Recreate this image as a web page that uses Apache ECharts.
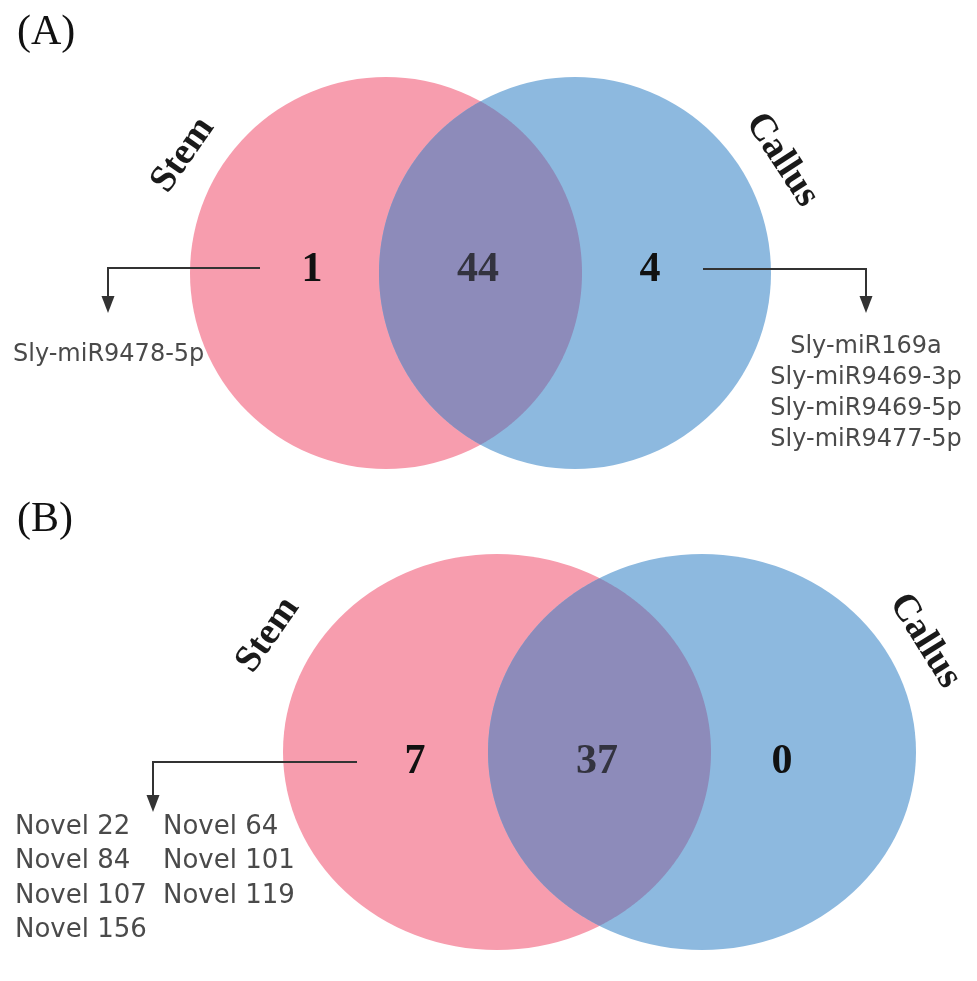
<!DOCTYPE html>
<html>
<head>
<meta charset="utf-8">
<script src="https://cdn.jsdelivr.net/npm/echarts@6/dist/echarts.min.js"></script>
<style>
  html, body { margin: 0; padding: 0; background: #fff; }
  #chart { width: 977px; height: 981px; }
</style>
</head>
<body>
<div id="chart"></div>
<script>
// ---- data ----
const panelTags = ['(A)', '(B)'];
const setNames = ['Stem', 'Callus'];
// region counts: [Stem only, shared, Callus only]
const knownCounts = [1, 44, 4];
const novelCounts = [7, 37, 0];
const knownStemOnly = ['Sly-miR9478-5p'];
const knownCallusOnly = ['Sly-miR169a', 'Sly-miR9469-3p', 'Sly-miR9469-5p', 'Sly-miR9477-5p'];
const novelStemOnly = ['Novel 22', 'Novel 64', 'Novel 84', 'Novel 101', 'Novel 107', 'Novel 119', 'Novel 156'];

// ---- styling ----
const COLORS = {
  sets: ['#F79DAE', '#8DB9DF'],
  shared: '#8D8BBA',
  count: '#111111',
  sharedCount: '#33333f',
  list: '#4a4a4a',
  arrow: '#333333'
};
const FONT_COUNT = 'bold 42px "Liberation Serif", "Times New Roman", serif';
const FONT_NAME = 'bold 38px "Liberation Serif", "Times New Roman", serif';
const FONT_TAG = '42px "Liberation Serif", "Times New Roman", serif';

// ---- layout (in each panel's axis units) ----
const panels = [
  {
    tag: panelTags[0], tagPos: [17, 33],
    counts: knownCounts,
    circles: [{ cx: 386, cy: 273, rx: 196, ry: 196 }, { cx: 575, cy: 273, rx: 196, ry: 196 }],
    countX: [312, 478, 650], countY: 270,
    names: [{ x: 183, y: 155, rot: 55 }, { x: 782, y: 160, rot: -57 }],
    arrows: [
      { from: [260, 268], corner: [108, 268], tip: [108, 313] },
      { from: [703, 269], corner: [866, 269], tip: [866, 313] }
    ],
    lists: [
      { items: knownStemOnly, x: 13, y: 355, align: 'left', lineHeight: 31, font: '24px "DejaVu Sans", sans-serif' },
      { items: knownCallusOnly, x: 866, y: 347, align: 'center', lineHeight: 31, font: '24px "DejaVu Sans", sans-serif' }
    ]
  },
  {
    tag: panelTags[1], tagPos: [17, 30],
    counts: novelCounts,
    circles: [{ cx: 497, cy: 262, rx: 214, ry: 198 }, { cx: 702, cy: 262, rx: 214, ry: 198 }],
    countX: [415, 597, 782], countY: 272,
    names: [{ x: 268, y: 145, rot: 55 }, { x: 925, y: 151, rot: -58 }],
    arrows: [
      { from: [357, 272], corner: [153, 272], tip: [153, 322] }
    ],
    lists: [
      { items: novelStemOnly.filter((_, i) => i % 2 === 0), x: 15, y: 337, align: 'left', lineHeight: 34.5, font: '26px "DejaVu Sans", sans-serif' },
      { items: novelStemOnly.filter((_, i) => i % 2 === 1), x: 163, y: 337, align: 'left', lineHeight: 34.5, font: '26px "DejaVu Sans", sans-serif' }
    ]
  }
];

// pixel-space ellipse from a layout circle
function ellipsePx(api, c) {
  const p = api.coord([c.cx, c.cy]);
  const s = api.size([c.rx, c.ry]);
  return { x: p[0], y: p[1], rx: s[0], ry: s[1] };
}
function inside(e, x, y) {
  const dx = (x - e.x) / e.rx, dy = (y - e.y) / e.ry;
  return dx * dx + dy * dy <= 1;
}
// outline of the overlap of two ellipses (left one a, right one b)
function lensPoints(a, b) {
  const pts = [];
  const N = 720;
  for (let k = 0; k <= N; k++) {
    const t = -Math.PI / 2 + Math.PI * k / N;
    const x = a.x + a.rx * Math.cos(t), y = a.y + a.ry * Math.sin(t);
    if (inside(b, x, y)) pts.push([x, y]);
  }
  for (let k = 0; k <= N; k++) {
    const t = Math.PI / 2 + Math.PI * k / N;
    const x = b.x + b.rx * Math.cos(t), y = b.y + b.ry * Math.sin(t);
    if (inside(a, x, y)) pts.push([x, y]);
  }
  return pts;
}

function buildSeries(P, gi) {
  const series = [];
  // the two sets and their overlap
  series.push({
    type: 'custom', xAxisIndex: gi, yAxisIndex: gi, silent: true,
    data: setNames.map((n, i) => [i]),
    renderItem: function (params, api) {
      const i = api.value(0);
      const e = ellipsePx(api, P.circles[i]);
      const children = [{
        type: 'circle', x: e.x, y: e.y, scaleX: e.rx, scaleY: e.ry,
        shape: { cx: 0, cy: 0, r: 1 }, style: { fill: COLORS.sets[i] }
      }];
      if (i === 1) {
        const a = ellipsePx(api, P.circles[0]);
        children.push({ type: 'polygon', shape: { points: lensPoints(a, e) }, style: { fill: COLORS.shared } });
      }
      return { type: 'group', children: children };
    }
  });
  // region counts
  series.push({
    type: 'custom', xAxisIndex: gi, yAxisIndex: gi, silent: true, z: 5,
    data: P.counts.map((c, i) => [i, c]),
    renderItem: function (params, api) {
      const i = api.value(0);
      const p = api.coord([P.countX[i], P.countY]);
      return {
        type: 'text', x: p[0], y: p[1],
        style: { text: String(api.value(1)), font: FONT_COUNT, fill: i === 1 ? COLORS.sharedCount : COLORS.count, align: 'center', verticalAlign: 'middle' }
      };
    }
  });
  // set names, arrows, member lists, panel tag
  series.push({
    type: 'custom', xAxisIndex: gi, yAxisIndex: gi, silent: true, z: 6,
    data: [[0]],
    renderItem: function (params, api) {
      const children = [];
      setNames.forEach((name, i) => {
        const n = P.names[i];
        const p = api.coord([n.x, n.y]);
        children.push({
          type: 'text', x: p[0], y: p[1], rotation: n.rot * Math.PI / 180,
          style: { text: name, font: FONT_NAME, fill: '#1a1a1a', align: 'center', verticalAlign: 'middle' }
        });
      });
      P.arrows.forEach(a => {
        const f = api.coord(a.from), c = api.coord(a.corner), t = api.coord(a.tip);
        children.push({
          type: 'polyline', shape: { points: [f, c, [t[0], t[1] - 14]] },
          style: { stroke: COLORS.arrow, lineWidth: 2, fill: null }
        });
        children.push({
          type: 'polygon', shape: { points: [[t[0] - 6.5, t[1] - 17], [t[0] + 6.5, t[1] - 17], [t[0], t[1]]] },
          style: { fill: COLORS.arrow }
        });
      });
      P.lists.forEach(l => {
        const p = api.coord([l.x, l.y]);
        children.push({
          type: 'text', x: p[0], y: p[1] - l.lineHeight / 2,
          style: { text: l.items.join('\n'), font: l.font, fill: COLORS.list, align: l.align, verticalAlign: 'top', lineHeight: l.lineHeight }
        });
      });
      const tp = api.coord(P.tagPos);
      children.push({
        type: 'text', x: tp[0], y: tp[1],
        style: { text: P.tag, font: FONT_TAG, fill: '#111', align: 'left', verticalAlign: 'middle' }
      });
      return { type: 'group', children: children };
    }
  });
  return series;
}

const chart = echarts.init(document.getElementById('chart'), null, { renderer: 'canvas' });
chart.setOption({
  animation: false,
  backgroundColor: '#ffffff',
  grid: [
    { left: 0, top: 0, width: 977, height: 490 },
    { left: 0, top: 490, width: 977, height: 491 }
  ],
  xAxis: [
    { gridIndex: 0, type: 'value', min: 0, max: 977, show: false },
    { gridIndex: 1, type: 'value', min: 0, max: 977, show: false }
  ],
  yAxis: [
    { gridIndex: 0, type: 'value', min: 0, max: 490, inverse: true, show: false },
    { gridIndex: 1, type: 'value', min: 0, max: 491, inverse: true, show: false }
  ],
  series: buildSeries(panels[0], 0).concat(buildSeries(panels[1], 1))
});
</script>
</body>
</html>
